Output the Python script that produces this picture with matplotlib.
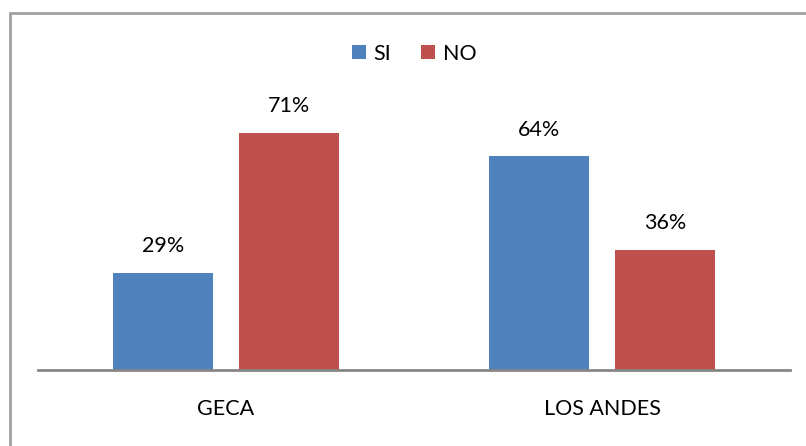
import matplotlib
matplotlib.use("Agg")
import matplotlib.pyplot as plt
import numpy as np
from matplotlib.patches import Rectangle

# datos
categorias = ["GECA", "LOS ANDES"]
series = ["SI", "NO"]
valores_si = [0.29, 0.64]
valores_no = [0.71, 0.36]
colores = ["#4F81BD", "#C0504D"]

plt.rcParams["font.family"] = ["Lato", "DejaVu Sans"]
fs = 15.5

fig = plt.figure(figsize=(8.06, 4.46), dpi=100)
ax = fig.add_axes([38 / 806, 76 / 446, 752 / 806, 334 / 446])

x = np.arange(len(categorias))
ancho = 0.266
desplaz = 0.167

for valores, nombre, color, d in zip([valores_si, valores_no], series, colores, [-desplaz, desplaz]):
    barras = ax.bar(x + d, valores, ancho, color=color, label=nombre)
    for b, v in zip(barras, valores):
        ax.annotate(f"{v:.0%}", (b.get_x() + b.get_width() / 2, v),
                    xytext=(0, 12), textcoords="offset points",
                    ha="center", va="bottom", fontsize=fs)

ax.set_xlim(-0.5, 1.5)
ax.set_ylim(0, 1)
ax.set_xticks(x)
ax.set_xticklabels(categorias, fontsize=fs)
ax.tick_params(axis="x", length=0, pad=21)
ax.set_yticks([])
for s in ["top", "right", "left"]:
    ax.spines[s].set_visible(False)
ax.spines["bottom"].set_color("#868686")
ax.spines["bottom"].set_linewidth(2)

ax.legend(loc="upper center", bbox_to_anchor=(0.5, 1.035), ncol=2, frameon=False,
          fontsize=fs, handlelength=0.65, handleheight=0.65, handletextpad=0.35,
          columnspacing=1.4)

# marco del gráfico
fig.patches.append(Rectangle((9.5 / 806, -0.1), 1.2, (446 - 12.5) / 446 + 0.1,
                             transform=fig.transFigure, fill=False,
                             edgecolor="#A0A0A0", linewidth=2))

plt.savefig("out.png", dpi=100)
